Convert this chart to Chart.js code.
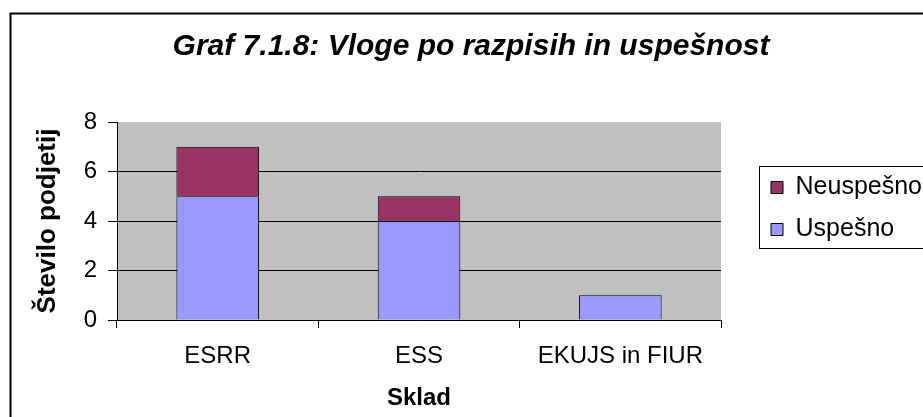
<!DOCTYPE html>
<html>
<head>
<meta charset="utf-8">
<script src="https://cdn.jsdelivr.net/npm/chart.js@4.4.1/dist/chart.umd.min.js"></script>
<style>
  html, body { margin: 0; padding: 0; background: #fff; }
</style>
</head>
<body>
<canvas id="graf" width="923" height="417"></canvas>
<script>
// podatki iz grafa
const skladi = ['ESRR', 'ESS', 'EKUJS in FIUR'];
const uspesno = [5, 4, 1];
const neuspesno = [2, 1, 0];
const yMax = 8;
const yKorak = 2;

const naslov = 'Graf 7.1.8: Vloge po razpisih in uspešnost';
const pisava = "'Liberation Sans', Arial, sans-serif";

// sivo ozadje risalne površine, okvir grafa in okvir legende
const okvirji = {
    id: 'okvirji',
    beforeDraw(chart) {
        const ctx = chart.ctx;
        const a = chart.chartArea;
        ctx.save();
        ctx.fillStyle = '#fff';
        ctx.fillRect(0, 0, chart.width, chart.height);
        ctx.fillStyle = '#c0c0c0';
        ctx.fillRect(a.left, a.top, a.right - a.left, a.bottom - a.top);
        ctx.strokeStyle = '#000';
        ctx.lineWidth = 2;
        ctx.strokeRect(10.5, 13.5, chart.width + 20, chart.height + 20);
        ctx.restore();
    },
    afterDraw(chart) {
        const hb = chart.legend.legendHitBoxes;
        if (!hb || !hb.length) return;
        const ctx = chart.ctx;
        const prvi = hb[0];
        const zadnji = hb[hb.length - 1];
        const l = Math.round(prvi.left - 12) + 0.5;
        const t = Math.round(prvi.top - 9) + 0.5;
        const b = Math.round(zadnji.top + zadnji.height + 6) + 0.5;
        ctx.save();
        ctx.strokeStyle = '#000';
        ctx.lineWidth = 1;
        ctx.strokeRect(l, t, chart.width, b - t);
        ctx.restore();
    }
};

new Chart(document.getElementById('graf'), {
    type: 'bar',
    data: {
        labels: skladi,
        datasets: [
            {
                label: 'Uspešno',
                data: uspesno,
                backgroundColor: '#9999ff',
                borderColor: '#000',
                borderWidth: 1,
                barPercentage: 0.41,
                categoryPercentage: 1
            },
            {
                label: 'Neuspešno',
                data: neuspesno,
                backgroundColor: '#993366',
                borderColor: '#000',
                borderWidth: 1,
                barPercentage: 0.41,
                categoryPercentage: 1
            }
        ]
    },
    options: {
        responsive: false,
        animation: false,
        layout: {
            padding: { left: 10, right: -9, top: 0, bottom: 0 }
        },
        plugins: {
            title: {
                display: true,
                text: naslov,
                color: '#000',
                font: { family: pisava, size: 30, weight: 'bold', style: 'italic' },
                padding: { top: 29, bottom: 57 }
            },
            legend: {
                position: 'right',
                reverse: true,
                maxWidth: 260,
                labels: {
                    boxWidth: 12,
                    boxHeight: 12,
                    padding: 17,
                    color: '#000',
                    font: { family: pisava, size: 25 }
                }
            },
            tooltip: { enabled: false }
        },
        scales: {
            x: {
                stacked: true,
                grid: {
                    drawOnChartArea: false,
                    drawTicks: true,
                    tickLength: 8,
                    tickColor: '#000',
                    offset: true
                },
                border: { color: '#000', width: 1 },
                ticks: {
                    color: '#000',
                    font: { family: pisava, size: 24 },
                    padding: 14,
                    maxRotation: 0,
                    autoSkip: false
                },
                title: {
                    display: true,
                    text: 'Sklad',
                    color: '#000',
                    font: { family: pisava, size: 24, weight: 'bold' },
                    padding: { top: 0, bottom: 4 }
                },
                afterFit(s) { s.height = 97; }
            },
            y: {
                stacked: true,
                min: 0,
                max: yMax,
                ticks: {
                    stepSize: yKorak,
                    color: '#000',
                    font: { family: pisava, size: 24 },
                    padding: 11
                },
                grid: {
                    color: (c) => (c.tick && c.tick.value === yMax) ? 'rgba(0,0,0,0)' : '#000',
                    tickColor: '#000',
                    tickLength: 9,
                    lineWidth: 1
                },
                border: { color: '#000', width: 1 },
                title: {
                    display: true,
                    text: 'Število podjetij',
                    color: '#000',
                    font: { family: pisava, size: 26, weight: 'bold' },
                    padding: { top: 22, bottom: 0 }
                },
                afterFit(s) { s.width = 107; }
            },
            // prazen prostor med risalno površino in legendo
            yPrazno: {
                position: 'right',
                display: true,
                grid: { display: false },
                border: { display: false },
                ticks: { display: false },
                afterFit(s) { s.width = 33; }
            }
        }
    },
    plugins: [okvirji]
});
</script>
</body>
</html>
